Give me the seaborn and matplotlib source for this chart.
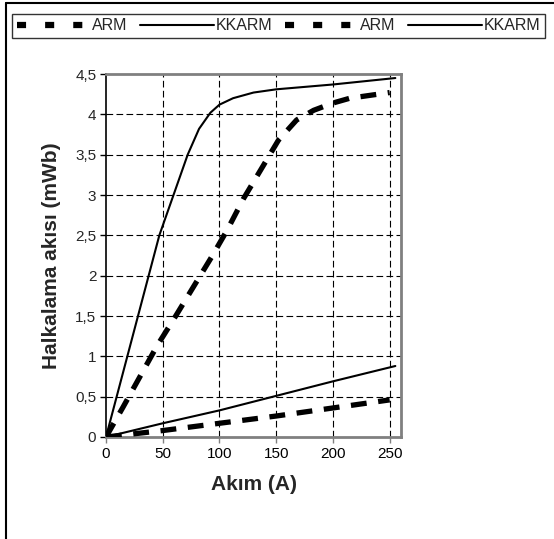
import numpy as np
import pandas as pd
import matplotlib
matplotlib.use('Agg')
import matplotlib.pyplot as plt
from matplotlib.lines import Line2D
import seaborn as sns

sns.set_style('white')
plt.rcParams['font.family'] = ['Liberation Sans', 'DejaVu Sans']

# values (current in A, flux linkage in mWb)
arm_hi_x = [0, 15, 45, 61, 77, 93, 107, 121, 138, 152, 168, 183, 200, 215, 235, 250]
arm_hi_y = [0, 0.37, 1.13, 1.49, 1.86, 2.23, 2.57, 2.95, 3.35, 3.68, 3.93, 4.05, 4.14, 4.2, 4.24, 4.27]
kk_hi_x = [0, 47, 72, 82, 92, 100, 112, 130, 150, 200, 255]
kk_hi_y = [0, 2.5, 3.5, 3.82, 4.02, 4.12, 4.2, 4.27, 4.31, 4.37, 4.45]
arm_lo_x = [0, 50, 100, 150, 200, 250]
arm_lo_y = [0, 0.08, 0.17, 0.26, 0.36, 0.46]
kk_lo_x = [0, 50, 100, 150, 200, 255]
kk_lo_y = [0, 0.17, 0.33, 0.51, 0.69, 0.88]

labels = ['ARM', 'KKARM', 'ARM', 'KKARM']
xticks = [0, 50, 100, 150, 200, 250]
yticks = [0, 0.5, 1, 1.5, 2, 2.5, 3, 3.5, 4, 4.5]

series = [(arm_hi_x, arm_hi_y), (kk_hi_x, kk_hi_y), (arm_lo_x, arm_lo_y), (kk_lo_x, kk_lo_y)]

fig = plt.figure(figsize=(5.54, 5.39), dpi=100)
ax = fig.add_axes([106 / 554, 1 - 437 / 539, 295 / 554, 363 / 539])

handles = []
for i, (xs, ys) in enumerate(series):
    df = pd.DataFrame({'x': xs, 'y': ys})
    dashed = labels[i] == 'ARM'
    sns.lineplot(data=df, x='x', y='y', ax=ax, color='black', estimator=None, sort=False,
                 lw=3.8 if dashed else 1.5,
                 linestyle=(0, (3, 2.2)) if dashed else '-', zorder=3)
    # legend proxies drawn like the excel legend (short dashes, wide gaps)
    if dashed:
        handles.append(Line2D([], [], color='black', lw=4.5, solid_capstyle='butt',
                              dash_capstyle='butt', linestyle=(0, (1.45, 3.05))))
    else:
        handles.append(Line2D([], [], color='black', lw=1.5))

ax.set_xlim(0, 260)
ax.set_ylim(0, 4.5)
ax.set_xticks(xticks)
ax.set_yticks(yticks)
ax.set_xticklabels([str(v) for v in xticks])
ax.set_yticklabels([('%g' % v).replace('.', ',') for v in yticks])
ax.tick_params(axis='both', labelsize=11, length=4, width=1, color='black', direction='out',
               left=True, bottom=True, pad=3)
ax.tick_params(axis='x', colors='black', color='#808080')

for v in xticks[1:]:
    ax.axvline(v, color='black', lw=0.8, linestyle=(0, (6, 3)), zorder=1)
for v in yticks[1:-1]:
    ax.axhline(v, color='black', lw=0.8, linestyle=(0, (6, 3)), zorder=1)

for side in ['top', 'right', 'bottom']:
    ax.spines[side].set_color('#808080')
    ax.spines[side].set_linewidth(2)
ax.spines['left'].set_color('black')
ax.spines['left'].set_linewidth(1.2)

ax.set_xlabel('Akım (A)', fontsize=15, fontweight='bold', labelpad=10)
ax.set_ylabel('Halkalama akısı (mWb)', fontsize=15, fontweight='bold', labelpad=10)

leg = fig.legend(handles, labels, ncol=4, loc='center', mode='expand',
                 bbox_to_anchor=(12 / 554, 1 - 40 / 539, 533 / 554, 28 / 539),
                 fontsize=11.5, frameon=True, fancybox=False, edgecolor='black',
                 handlelength=4.6, handletextpad=0.1, columnspacing=0.3,
                 borderpad=0.3, borderaxespad=0)
leg.get_frame().set_linewidth(1)

# outer chart frame (top and left edges only visible)
fig.add_artist(Line2D([6 / 554, 1], [1 - 2.5 / 539, 1 - 2.5 / 539], color='black', lw=1.5,
                      transform=fig.transFigure))
fig.add_artist(Line2D([6 / 554, 6 / 554], [0, 1 - 2.5 / 539], color='black', lw=1.5,
                      transform=fig.transFigure))

fig.savefig('out.png', dpi=100)
